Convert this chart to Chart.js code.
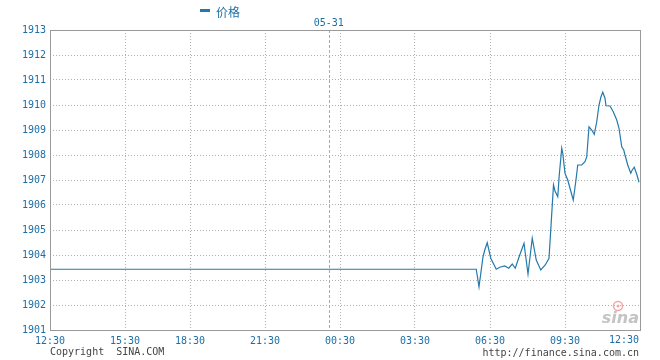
<!DOCTYPE html>
<html>
<head>
<meta charset="utf-8">
<script src="https://cdn.jsdelivr.net/npm/chart.js@4"></script>
<style>
  body { margin: 0; background: #fff; }
  #wrap { width: 660px; height: 360px; }
</style>
</head>
<body>
<div id="wrap"><canvas id="chart" width="660" height="360"></canvas></div>
<script>
// Eixo de tempo: horas desde 12:30 (escala comprimida como no gráfico original)
const xTickVals = [0, 3, 5.6, 8.6, 11.6, 14.6, 17.6, 20.6, 23.6];
const xTickLabels = ['12:30', '15:30', '18:30', '21:30', '00:30', '03:30', '06:30', '09:30', '12:30'];
const dayBreak = 11.15;
const dayLabel = '05-31';

// Série de preços
const offsets = [0, 17.05, 17.16, 17.32, 17.39, 17.49, 17.63, 17.85, 17.99, 18.19, 18.35, 18.49, 18.61,
  18.79, 18.96, 19.12, 19.29, 19.45, 19.63, 19.81, 19.96, 20.03, 20.14, 20.2, 20.31, 20.37, 20.47,
  20.51, 20.6, 20.71, 20.8, 20.93, 21.03, 21.11, 21.27, 21.4, 21.47, 21.56, 21.67, 21.77, 21.87,
  21.96, 22.04, 22.11, 22.2, 22.24, 22.4, 22.53, 22.67, 22.76, 22.87, 22.95, 23.0, 23.11, 23.23,
  23.29, 23.37, 23.47, 23.56];
const prices = [1903.43, 1903.43, 1902.73, 1903.93, 1904.2, 1904.49, 1903.87, 1903.43, 1903.51, 1903.56,
  1903.47, 1903.64, 1903.47, 1904.0, 1904.47, 1903.24, 1904.67, 1903.8, 1903.4, 1903.6, 1903.87,
  1905.0, 1906.8, 1906.56, 1906.33, 1907.2, 1908.27, 1908.07, 1907.27, 1907.0, 1906.67, 1906.2,
  1906.93, 1907.6, 1907.6, 1907.73, 1907.93, 1909.13, 1909.0, 1908.83, 1909.33, 1910.0, 1910.33,
  1910.51, 1910.27, 1909.97, 1909.96, 1909.73, 1909.4, 1909.07, 1908.33, 1908.2, 1908.0, 1907.6,
  1907.27, 1907.4, 1907.51, 1907.23, 1906.91];

const seriesName = '价格';
const yMin = 1901, yMax = 1913;

const azul = '#1c6fa6';
const linha = '#2479ab';
const mono = '"DejaVu Sans Mono", monospace';
const ultimo = xTickVals.length - 1;

// Textos extras: legenda, data, rodapé, borda e marca d'água
const extras = {
  id: 'extras',
  beforeDatasetsDraw(chart) {
    const { ctx, chartArea: a, scales: { x } } = chart;
    const px = Math.round(x.getPixelForValue(dayBreak)) + 0.5;
    ctx.save();
    ctx.strokeStyle = '#aaaaaa';
    ctx.lineWidth = 1;
    ctx.setLineDash([3, 2]);
    ctx.beginPath();
    ctx.moveTo(px, a.top);
    ctx.lineTo(px, a.bottom);
    ctx.stroke();
    ctx.restore();

    // marca d'água sina
    ctx.save();
    ctx.font = 'italic bold 16px "DejaVu Sans", sans-serif';
    ctx.fillStyle = '#c4c4c4';
    ctx.textAlign = 'right';
    ctx.textBaseline = 'alphabetic';
    ctx.fillText('sina', 639, 323);
    ctx.strokeStyle = '#f0a8a8';
    ctx.lineWidth = 1.5;
    ctx.beginPath();
    ctx.arc(618, 306, 4.5, 0, Math.PI * 2);
    ctx.stroke();
    ctx.fillStyle = '#f0a8a8';
    ctx.beginPath();
    ctx.arc(618, 306, 1.5, 0, Math.PI * 2);
    ctx.fill();
    ctx.restore();
  },
  afterDraw(chart) {
    const { ctx, chartArea: a, scales: { x } } = chart;
    ctx.save();
    ctx.strokeStyle = '#999999';
    ctx.lineWidth = 1;
    ctx.strokeRect(Math.round(a.left) + 0.5, Math.round(a.top) + 0.5,
      Math.round(a.right - a.left), Math.round(a.bottom - a.top));

    // legenda
    ctx.fillStyle = linha;
    ctx.fillRect(200, 9, 10, 3);
    ctx.fillStyle = azul;
    ctx.font = '12px "Noto Sans CJK SC", sans-serif';
    ctx.textBaseline = 'middle';
    ctx.textAlign = 'left';
    ctx.fillText(seriesName, 216, 12);

    // data
    ctx.font = '10px ' + mono;
    ctx.textAlign = 'center';
    ctx.fillText(dayLabel, x.getPixelForValue(dayBreak), 23);

    // último rótulo do eixo x, alinhado por dentro
    ctx.textAlign = 'right';
    ctx.textBaseline = 'top';
    ctx.fillText(xTickLabels[ultimo], x.getPixelForValue(xTickVals[ultimo]) - 1, a.bottom + 5);

    // rodapé
    ctx.fillStyle = '#444444';
    ctx.textBaseline = 'middle';
    ctx.textAlign = 'left';
    ctx.fillText('Copyright  SINA.COM', 50, 352);
    ctx.textAlign = 'right';
    ctx.fillText('http://finance.sina.com.cn', 639, 353);
    ctx.restore();
  }
};

new Chart(document.getElementById('chart'), {
  type: 'line',
  data: {
    datasets: [{
      label: seriesName,
      data: offsets.map((t, i) => ({ x: t, y: prices[i] })),
      borderColor: linha,
      borderWidth: 1.2,
      pointRadius: 0,
      tension: 0,
      fill: false
    }]
  },
  options: {
    responsive: false,
    animation: false,
    layout: { padding: { top: 30, right: 20, left: 0, bottom: 0 } },
    plugins: { legend: { display: false }, tooltip: { enabled: false } },
    scales: {
      x: {
        type: 'linear',
        min: 0,
        max: xTickVals[ultimo],
        afterBuildTicks: s => { s.ticks = xTickVals.map(v => ({ value: v })); },
        afterFit: s => { s.height = 30; },
        ticks: {
          autoSkip: false,
          maxRotation: 0,
          padding: 5,
          color: azul,
          font: { family: mono, size: 10 },
          callback: (v, i) => i === ultimo ? '' : xTickLabels[i]
        },
        grid: {
          drawTicks: false,
          color: c => (c.index === 0 || c.index === ultimo) ? 'rgba(0,0,0,0)' : '#b0b0b0',
          lineWidth: 1
        },
        border: { display: false, dash: [1, 2] }
      },
      y: {
        min: yMin,
        max: yMax,
        afterFit: s => { s.width = 50; },
        ticks: {
          stepSize: 1,
          padding: 4,
          color: azul,
          font: { family: mono, size: 10 },
          callback: v => String(v)
        },
        grid: {
          drawTicks: false,
          color: c => (c.tick && (c.tick.value === yMin || c.tick.value === yMax)) ? 'rgba(0,0,0,0)' : '#b0b0b0',
          lineWidth: 1
        },
        border: { display: false, dash: [1, 2] }
      }
    }
  },
  plugins: [extras]
});
</script>
</body>
</html>
